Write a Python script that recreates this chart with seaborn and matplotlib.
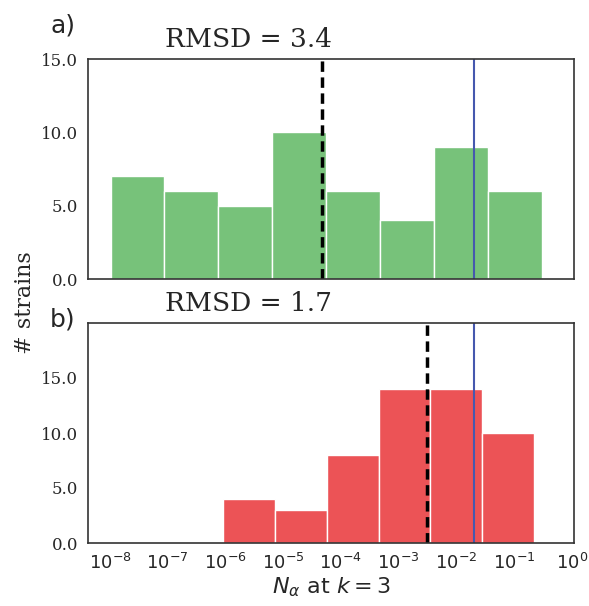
import numpy as np
import seaborn as sns
import matplotlib.pyplot as plt
from matplotlib.ticker import FormatStrFormatter

# bin edges as log10 exponents, counts per bin
edges_a = [-7.99, -7.06, -6.12, -5.19, -4.26, -3.32, -2.39, -1.45, -0.51]
counts_a = [7, 6, 5, 10, 6, 4, 9, 6]
edges_b = [-6.04, -5.14, -4.24, -3.34, -2.45, -1.55, -0.65]
counts_b = [4, 3, 8, 14, 14, 10]

mean_a = 10 ** -4.32   # dashed black line, panel a
mean_b = 10 ** -2.51   # dashed black line, panel b
ref_val = 10 ** -1.686  # blue reference line (both panels)

rmsd_a = 3.4
rmsd_b = 1.7

xtick_pos = [1e-8, 1e-7, 1e-6, 1e-5, 1e-4, 1e-3, 1e-2, 1e-1, 1e0]

green = '#77C27A'
red = '#EC5356'
blue = '#4658AE'

sns.set_style('white')
plt.rcParams['font.family'] = ['DejaVu Sans']
plt.rcParams['axes.edgecolor'] = '#333333'

fig = plt.figure(figsize=(5.89, 6.06), dpi=100)
ax1 = fig.add_axes([88 / 589, 1 - 279 / 606, 486 / 589, 220 / 606])
ax2 = fig.add_axes([88 / 589, 1 - 543 / 606, 486 / 589, 220 / 606])


def centers(e):
    e = np.asarray(e)
    return 10 ** ((e[:-1] + e[1:]) / 2)


panels = [
    (ax1, edges_a, counts_a, green, mean_a, rmsd_a, 15),
    (ax2, edges_b, counts_b, red, mean_b, rmsd_b, 20),
]

for ax, edges, counts, col, mean, rmsd, ytop in panels:
    sns.histplot(x=centers(edges), weights=counts, bins=edges, log_scale=True,
                 color=col, alpha=1, edgecolor='white', linewidth=1, ax=ax)
    ax.axvline(mean, color='black', ls='--', lw=2.5, dashes=(3, 1.6))
    ax.axvline(ref_val, color=blue, lw=1.5)
    ax.set_xticks(xtick_pos)
    ax.minorticks_off()
    ax.set_xlim(10 ** -8.38, 10 ** 0.04)
    ax.set_ylim(0, ytop)
    ax.set_yticks([0, 5, 10, 15])
    ax.yaxis.set_major_formatter(FormatStrFormatter('%.1f'))
    for t in ax.get_yticklabels():
        t.set_family('DejaVu Serif')
        t.set_fontsize(12)
    ax.set_ylabel('')
    ax.tick_params(axis='x', labelsize=13)
    for s in ax.spines.values():
        s.set_linewidth(1.2)
    ax.text(0.33, 1.03, f'RMSD = {rmsd}', transform=ax.transAxes, ha='center',
            va='bottom', family='DejaVu Serif', fontsize=19)

# panel letters
fig.text(63 / 589, 1 - 26 / 606, 'a)', ha='center', va='center', fontsize=18)
fig.text(63 / 589, 1 - 319 / 606, 'b)', ha='center', va='center', fontsize=18)

ax1.set_xlabel('')
ax1.set_xticklabels([])
ax2.set_xlabel(r'$N_\alpha$ at $k = 3$', fontsize=16, labelpad=2)
fig.text(0.043, 0.5, '# strains', rotation=90, ha='center', va='center',
         family='DejaVu Serif', fontsize=16)

fig.savefig('out.png', dpi=100)
